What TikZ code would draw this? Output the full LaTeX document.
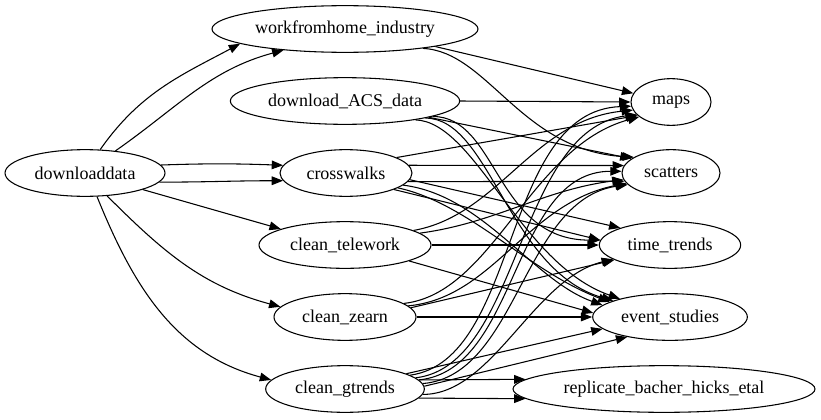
\documentclass[tikz,border=0pt]{standalone}
\usepackage{fontspec}
\setmainfont{Liberation Serif}
\newfontfamily\gvfont{Liberation Serif}
\usetikzlibrary{arrows.meta,shapes.geometric}
\begin{document}
\begin{tikzpicture}[x=0.75pt,y=0.75pt,
  nd/.style={draw,ellipse,inner sep=0pt,minimum height=35pt,line width=0.8pt,
    font=\gvfont\fontsize{13.5}{16}\selectfont},
  ed/.style={-{Triangle[length=8.5pt,width=6.5pt]},line width=0.8pt}]
\useasboundingbox (0,0) rectangle (821,419);
% nodes
\node[nd,minimum width=120pt]   (dd)   at (85,246)  {downloaddata};
\node[nd,minimum width=199.5pt] (wfh)  at (345,390) {workfromhome\_industry};
\node[nd,minimum width=172pt]   (acs)  at (345,318) {download\_ACS\_data};
\node[nd,minimum width=99pt]    (cw)   at (346,246) {crosswalks};
\node[nd,minimum width=129pt]   (tw)   at (345,174) {clean\_telework};
\node[nd,minimum width=106.5pt] (ze)   at (345,102) {clean\_zearn};
\node[nd,minimum width=119pt]   (gt)   at (345,30)  {clean\_gtrends};
\node[nd,minimum width=60pt]    (maps) at (671,317) {maps};
\node[nd,minimum width=73.5pt]  (sc)   at (671,246) {scatters};
\node[nd,minimum width=106pt]   (tt)   at (670,174) {time\_trends};
\node[nd,minimum width=116pt]   (es)   at (670,102) {event\_studies};
\node[nd,minimum width=226.5pt] (rep)  at (664,30)  {replicate\_bacher\_hicks\_etal};
% downloaddata
\draw[ed] (dd.57) to[out=55,in=208] (wfh.188);
\draw[ed] (dd.36) to[out=35,in=195] (wfh.199);
\draw[ed] (dd.6) to[out=2,in=178] (cw.173);
\draw[ed] (dd.-7) to[out=0,in=180] (cw.187);
\draw[ed] (dd.-16) -- (tw.166);
\draw[ed] (dd.-46) to[out=-45,in=165] (ze.171);
\draw[ed] (dd.-63) to[out=-68,in=165] (gt.173);
% workfromhome_industry
\draw[ed] (wfh.-11) -- (maps.167);
\draw[ed] (wfh.-14) .. controls +(65,-3) and +(-113,7) .. (sc.157);
% download_ACS_data
\draw[ed] (acs.0) -- (maps.180);
\draw[ed] (acs.-11) -- (sc.160);
\draw[ed] (acs.-10) .. controls +(65,0) and +(-105,0) .. (tt.176);
\draw[ed] (acs.-12) .. controls +(65,0) and +(-105,30) .. (es.164);
\draw[ed] (acs.-15) .. controls +(60,-2) and +(-100,35) .. (es.160);
% crosswalks
\draw[ed] (cw.17) -- (maps.202);
\draw[ed] (cw.7) -- (sc.171);
\draw[ed] (cw.-8) -- (sc.190);
\draw[ed] (cw.-6) -- (tt.161);
\draw[ed] (cw.-19) -- (tt.176);
\draw[ed] (cw.-12) .. controls +(80,-10) and +(-70,25) .. (es.170);
\draw[ed] (cw.-16) .. controls +(70,-15) and +(-80,30) .. (es.166);
% clean_telework
\draw[ed] (tw.12) .. controls +(85,15) and +(-100,-10) .. (maps.192);
\draw[ed] (tw.9) .. controls +(75,10) and +(-80,-10) .. (sc.188);
\draw[ed] (tw.0) -- (tt.180);
\draw[ed] (tw.-14) -- (es.177);
% clean_zearn
\draw[ed] (ze.13) .. controls +(90,10) and +(-110,-30) .. (maps.205);
\draw[ed] (ze.10) .. controls +(85,8) and +(-100,-20) .. (sc.193);
\draw[ed] (ze.8) -- (tt.195);
\draw[ed] (ze.0) -- (es.180);
% clean_gtrends
\draw[ed] (gt.12) .. controls +(110,15) and +(-130,-5) .. (maps.186);
\draw[ed] (gt.9) .. controls +(105,12) and +(-120,-15) .. (maps.200);
\draw[ed] (gt.7) .. controls +(100,10) and +(-110,0) .. (sc.178);
\draw[ed] (gt.4) .. controls +(95,8) and +(-105,-15) .. (sc.195);
\draw[ed] (gt.-4) .. controls +(70,0) and +(-80,-20) .. (tt.194);
\draw[ed] (gt.14) -- (es.190);
\draw[ed] (gt.2) -- (es.205);
\draw[ed] (gt.7) -- (rep.176);
\draw[ed] (gt.-7) -- (rep.184);
\end{tikzpicture}
\end{document}
